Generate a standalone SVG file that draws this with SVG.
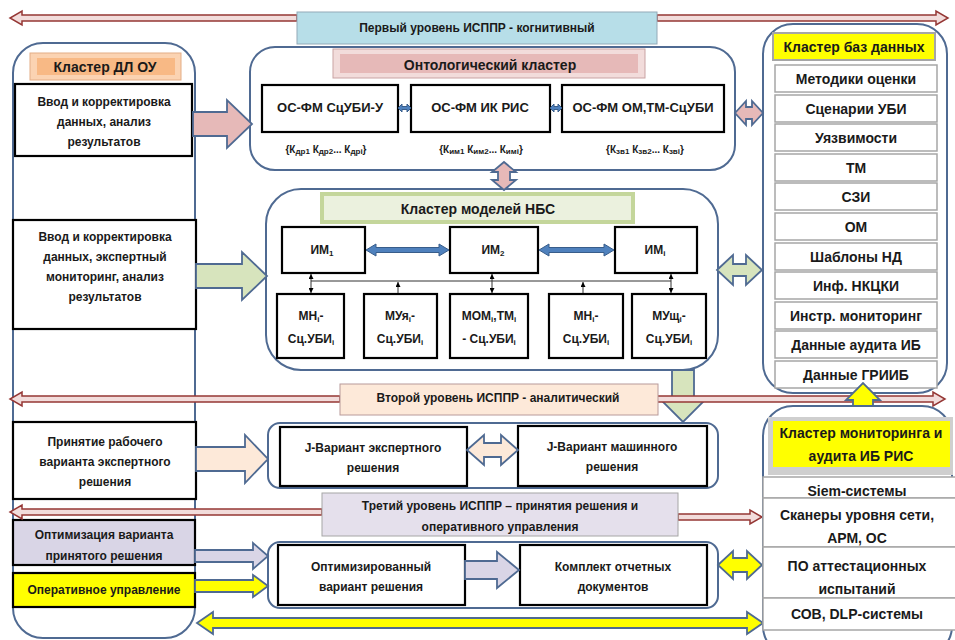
<svg xmlns="http://www.w3.org/2000/svg" width="955" height="640" viewBox="0 0 955 640">
  <style>
    text { font-family: "Liberation Sans", Arial, sans-serif; font-weight: bold; fill: #1a1a1a; text-anchor: middle; dominant-baseline: central; }
    .s12 { font-size: 12px; }
    .s13 { font-size: 13px; }
    .s14 { font-size: 14px; }
    .s10 { font-size: 10px; }
    .sub { font-size: 8px; }
    .cluster { fill: #ffffff; stroke: #4f6a92; stroke-width: 2; }
    .box { fill: #ffffff; stroke: #000000; stroke-width: 2.2; }
    .row { fill: #ffffff; stroke: #a6a6a6; stroke-width: 1.5; }
    .red { fill: #f2dcdb; stroke: #953735; stroke-width: 1.5; }
    .blk { stroke: #4f6a92; stroke-width: 1.8; stroke-linejoin: miter; }
    .pink { fill: #e6b9b8; }
    .green { fill: #d7e4bd; }
    .peach { fill: #fde9d9; }
    .lav { fill: #d9d5e6; }
    .yel { fill: #ffff00; }
    .blue { fill: #4f81bd; stroke: #385d8a; stroke-width: 1; }
    .thin { stroke: #333333; stroke-width: 1; fill: none; }
  </style>
  <defs>
    <marker id="ah" viewBox="0 0 6 6" refX="6" refY="3" markerWidth="5" markerHeight="5" orient="auto-start-reverse">
      <path d="M0,0 L6,3 L0,6 Z" fill="#000"/>
    </marker>
  </defs>

  <rect width="955" height="640" fill="#ffffff"/>

  <!-- Left cluster: decision makers -->
  <g id="cluster-dl">
    <rect class="cluster" x="13" y="43" width="182" height="595" rx="30"/>
    <rect x="30" y="53" width="151" height="27" fill="#fbd3b2" stroke="#e3ad86" stroke-width="1"/>
    <rect x="37" y="58" width="138" height="17" fill="#f8b985"/>
    <text class="s14" x="105" y="67">Кластер ДЛ ОУ</text>
  </g>
  <g id="dl-input">
    <rect class="box" x="15" y="84" width="177" height="72"/>
    <text class="s12" x="104" y="102">Ввод и корректировка</text>
    <text class="s12" x="104" y="122">данных, анализ</text>
    <text class="s12" x="104" y="142">результатов</text>
  </g>
  <g id="dl-monitoring">
    <rect class="box" x="13" y="220" width="183" height="109"/>
    <text class="s12" x="105" y="237">Ввод и корректировка</text>
    <text class="s12" x="105" y="257">данных, экспертный</text>
    <text class="s12" x="105" y="277">мониторинг, анализ</text>
    <text class="s12" x="105" y="297">результатов</text>
  </g>
  <g id="dl-accept">
    <rect class="box" x="13" y="422" width="183" height="77"/>
    <text class="s12" x="105" y="442">Принятие рабочего</text>
    <text class="s12" x="105" y="462">варианта экспертного</text>
    <text class="s12" x="105" y="482">решения</text>
  </g>
  <g id="dl-optimize">
    <rect class="box" x="13" y="520" width="182" height="45" fill="#d9d5e6" style="fill:#d9d5e6"/>
    <text class="s12" x="104" y="535">Оптимизация варианта</text>
    <text class="s12" x="104" y="556">принятого решения</text>
  </g>
  <g id="dl-control">
    <rect class="box" x="13" y="573" width="182" height="34" style="fill:#ffff00"/>
    <text class="s12" x="104" y="590">Оперативное управление</text>
  </g>

  <!-- Ontology cluster -->
  <g id="cluster-ontology">
    <rect class="cluster" x="250" y="47" width="485" height="123" rx="25"/>
    <rect x="333" y="49" width="312" height="29" fill="#f2dcdb" stroke="#c9a3a3" stroke-width="1"/>
    <rect x="340" y="54" width="298" height="19" fill="#e6b9b8"/>
    <text class="s14" x="490" y="65">Онтологический кластер</text>
  </g>
  <g id="os-fm-1">
    <rect class="box" x="262" y="85" width="136" height="47"/>
    <text class="s13" x="330" y="107">ОС-ФМ СцУБИ-У</text>
    <text class="s10" x="326" y="149">{К<tspan class="sub" dy="2">др1</tspan><tspan dy="-2"> К</tspan><tspan class="sub" dy="2">др2</tspan><tspan dy="-2">... К</tspan><tspan class="sub" dy="2">дрi</tspan><tspan dy="-2">}</tspan></text>
  </g>
  <g id="os-fm-2">
    <rect class="box" x="411" y="85" width="139" height="47"/>
    <text class="s13" x="480" y="107">ОС-ФМ ИК РИС</text>
    <text class="s10" x="481" y="149">{К<tspan class="sub" dy="2">им1</tspan><tspan dy="-2"> К</tspan><tspan class="sub" dy="2">им2</tspan><tspan dy="-2">... К</tspan><tspan class="sub" dy="2">имi</tspan><tspan dy="-2">}</tspan></text>
  </g>
  <g id="os-fm-3">
    <rect class="box" x="562" y="85" width="162" height="47"/>
    <text class="s13" x="643" y="107">ОС-ФМ ОМ,ТМ-СцУБИ</text>
    <text class="s10" x="645" y="149">{К<tspan class="sub" dy="2">зв1</tspan><tspan dy="-2"> К</tspan><tspan class="sub" dy="2">зв2</tspan><tspan dy="-2">... К</tspan><tspan class="sub" dy="2">звi</tspan><tspan dy="-2">}</tspan></text>
  </g>

  <!-- Cluster of NBS models -->
  <g id="cluster-nbs">
    <rect class="cluster" x="266" y="189" width="452" height="181" rx="35"/>
    <rect x="322" y="194" width="311" height="28" fill="#ebf1de" stroke="#c4d69b" stroke-width="4"/>
    <text class="s14" x="478" y="209">Кластер моделей НБС</text>
  </g>
  <g id="im-1">
    <rect class="box" x="282" y="227" width="83" height="46"/>
    <text class="s12" x="322" y="250">ИМ<tspan class="sub" dy="3">1</tspan></text>
  </g>
  <g id="im-2">
    <rect class="box" x="450" y="227" width="88" height="46"/>
    <text class="s12" x="493" y="250">ИМ<tspan class="sub" dy="3">2</tspan></text>
  </g>
  <g id="im-i">
    <rect class="box" x="615" y="227" width="82" height="46"/>
    <text class="s12" x="655" y="250">ИМ<tspan class="sub" dy="3">i</tspan></text>
  </g>
  <g id="m-1">
    <rect class="box" x="277" y="294" width="67" height="64"/>
    <text class="s12" x="311" y="316">МН<tspan class="sub" dy="3">i</tspan><tspan dy="-3">-</tspan></text>
    <text class="s12" x="311" y="339">Сц.УБИ<tspan class="sub" dy="3">i</tspan></text>
  </g>
  <g id="m-2">
    <rect class="box" x="364" y="294" width="73" height="64"/>
    <text class="s12" x="400" y="316">МУя<tspan class="sub" dy="3">i</tspan><tspan dy="-3">-</tspan></text>
    <text class="s12" x="400" y="339">Сц.УБИ<tspan class="sub" dy="3">i</tspan></text>
  </g>
  <g id="m-3">
    <rect class="box" x="450" y="294" width="78" height="64"/>
    <text class="s12" x="489" y="316">МОМ<tspan class="sub" dy="3">i</tspan><tspan dy="-3">,ТМ</tspan><tspan class="sub" dy="3">i</tspan></text>
    <text class="s12" x="489" y="339">- Сц.УБИ<tspan class="sub" dy="3">i</tspan></text>
  </g>
  <g id="m-4">
    <rect class="box" x="549" y="294" width="74" height="64"/>
    <text class="s12" x="586" y="316">МН<tspan class="sub" dy="3">i</tspan><tspan dy="-3">-</tspan></text>
    <text class="s12" x="586" y="339">Сц.УБИ<tspan class="sub" dy="3">i</tspan></text>
  </g>
  <g id="m-5">
    <rect class="box" x="632" y="294" width="74" height="64"/>
    <text class="s12" x="669" y="316">МУщ<tspan class="sub" dy="3">i</tspan><tspan dy="-3">-</tspan></text>
    <text class="s12" x="669" y="339">Сц.УБИ<tspan class="sub" dy="3">i</tspan></text>
  </g>

  <!-- Database cluster -->
  <g id="cluster-db">
    <rect class="cluster" x="763" y="24" width="184" height="369" rx="30"/>
    <rect x="773" y="33" width="162" height="27" fill="#ffff00" stroke="#a6a6a6" stroke-width="2"/>
    <text class="s14" x="854" y="47">Кластер баз данных</text>
    <rect class="row" x="775" y="65" width="162" height="27"/>
    <text class="s14" x="856" y="79">Методики оценки</text>
    <rect class="row" x="775" y="95" width="162" height="27"/>
    <text class="s14" x="856" y="109">Сценарии УБИ</text>
    <rect class="row" x="775" y="124" width="162" height="27"/>
    <text class="s14" x="856" y="138">Уязвимости</text>
    <rect class="row" x="775" y="154" width="162" height="27"/>
    <text class="s14" x="856" y="168">ТМ</text>
    <rect class="row" x="775" y="183" width="162" height="27"/>
    <text class="s14" x="856" y="197">СЗИ</text>
    <rect class="row" x="775" y="213" width="162" height="27"/>
    <text class="s14" x="856" y="227">ОМ</text>
    <rect class="row" x="775" y="243" width="162" height="27"/>
    <text class="s14" x="856" y="257">Шаблоны НД</text>
    <rect class="row" x="775" y="272" width="162" height="27"/>
    <text class="s14" x="856" y="286">Инф. НКЦКИ</text>
    <rect class="row" x="775" y="302" width="162" height="27"/>
    <text class="s14" x="856" y="316">Инстр. мониторинг</text>
    <rect class="row" x="775" y="331" width="162" height="27"/>
    <text class="s14" x="856" y="345">Данные аудита ИБ</text>
    <rect class="row" x="775" y="361" width="162" height="27"/>
    <text class="s14" x="856" y="375">Данные ГРИИБ</text>
  </g>

  <!-- Second level: working decisions -->
  <g id="cluster-decision">
    <rect class="cluster" x="268" y="423" width="450" height="65" rx="12"/>
  </g>
  <g id="j-expert">
    <rect class="box" x="280" y="427" width="187" height="59"/>
    <text class="s12" x="373" y="448">J-Вариант экспертного</text>
    <text class="s12" x="373" y="468">решения</text>
  </g>
  <g id="j-machine">
    <rect class="box" x="518" y="426" width="189" height="60"/>
    <text class="s12" x="612" y="447">J-Вариант машинного</text>
    <text class="s12" x="612" y="467">решения</text>
  </g>

  <!-- Third level: final decision -->
  <g id="cluster-final">
    <rect class="cluster" x="268" y="542" width="450" height="66" rx="12"/>
  </g>
  <g id="optimized">
    <rect class="box" x="278" y="545" width="187" height="60"/>
    <text class="s12" x="371" y="567">Оптимизированный</text>
    <text class="s12" x="371" y="587">вариант решения</text>
  </g>
  <g id="report">
    <rect class="box" x="520" y="545" width="187" height="60"/>
    <text class="s12" x="613" y="567">Комплект отчетных</text>
    <text class="s12" x="613" y="587">документов</text>
  </g>

  <!-- Connectors -->
  <g id="connectors">
    <!-- block arrows from the decision makers -->
    <path class="blk pink" d="M193,112 L227,112 L227,100 L252,124 L227,148 L227,136 L193,136 Z"/>
    <path class="blk green" d="M196,264 L242,264 L242,252 L267,276 L242,300 L242,288 L196,288 Z"/>
    <path class="blk peach" d="M196,447 L245,447 L245,435 L268,459 L245,483 L245,471 L196,471 Z"/>
    <path class="blk lav" d="M195,550 L253,550 L253,543 L268,556 L253,569 L253,562 L195,562 Z"/>
    <path class="blk yel" d="M195,580 L253,580 L253,575 L268,586 L253,597 L253,592 L195,592 Z"/>
    <!-- ontology links -->
    <path class="blue" d="M398,108 L402,104 L402,106.5 L407,106.5 L407,104 L411,108 L407,112 L407,109.5 L402,109.5 L402,112 Z"/>
    <path class="blue" d="M550,108 L554,104 L554,106.5 L558,106.5 L558,104 L562,108 L558,112 L558,109.5 L554,109.5 L554,112 Z"/>
    <path class="blk pink" d="M735,113 L746,101 L746,107 L752,107 L752,101 L763,113 L752,125 L752,119 L746,119 L746,125 Z"/>
    <path class="blk pink" d="M504,162 L516,172 L510,172 L510,180 L516,180 L504,190 L492,180 L498,180 L498,172 L492,172 Z"/>
    <!-- model links -->
    <path class="blue" d="M366,250 L376,244 L376,247.5 L439,247.5 L439,244 L449,250 L439,256 L439,252.5 L376,252.5 L376,256 Z"/>
    <path class="blue" d="M539,250 L549,244 L549,247.5 L604,247.5 L604,244 L614,250 L604,256 L604,252.5 L549,252.5 L549,256 Z"/>
    <line class="thin" x1="311" y1="281" x2="671" y2="281"/>
    <line class="thin" x1="311" y1="274" x2="311" y2="293" marker-start="url(#ah)" marker-end="url(#ah)"/>
    <line class="thin" x1="492" y1="274" x2="492" y2="293" marker-start="url(#ah)" marker-end="url(#ah)"/>
    <line class="thin" x1="671" y1="274" x2="671" y2="293" marker-start="url(#ah)" marker-end="url(#ah)"/>
    <line class="thin" x1="398" y1="293" x2="398" y2="282" marker-end="url(#ah)"/>
    <line class="thin" x1="583" y1="293" x2="583" y2="282" marker-end="url(#ah)"/>
    <path class="blk green" d="M717,270 L733,255 L733,264 L746,264 L746,255 L762,270 L746,285 L746,276 L733,276 L733,285 Z"/>
    <path class="blk green" d="M672,370 L694,370 L694,398 L707,398 L683,422 L659,398 L672,398 Z"/>
    <!-- decision links -->
    <path class="blk peach" d="M467,450 L484,435 L484,443 L501,443 L501,435 L518,450 L501,465 L501,457 L484,457 L484,465 Z"/>
    <path class="blk lav" d="M465,561 L497,561 L497,552 L519,570 L497,588 L497,579 L465,579 Z"/>
    <path class="blk yel" d="M718,565 L733,551 L733,558 L747,558 L747,551 L762,565 L747,579 L747,572 L733,572 L733,579 Z"/>
    <path class="blk yel" d="M197,623 L213,612 L213,618 L747,618 L747,612 L763,623 L747,634 L747,628 L213,628 L213,634 Z"/>
    <!-- level lines -->
    <path class="red" d="M297,15 L22,15 L22,11 L10,18 L22,25 L22,21 L297,21 Z"/>
    <path class="red" d="M657,15 L936,15 L936,11 L948,18 L936,25 L936,21 L657,21 Z"/>
    <path class="red" d="M340,396 L22,396 L22,392 L10,399 L22,406 L22,402 L340,402 Z"/>
    <path class="red" d="M657,396 L933,396 L933,392 L945,399 L933,406 L933,402 L657,402 Z"/>
    <path class="red" d="M322,509 L22,509 L22,505 L10,512 L22,519 L22,515 L322,515 Z"/>
    <path class="red" d="M678,514 L750,514 L750,510 L762,517 L750,524 L750,520 L678,520 Z"/>
    <path class="blk yel" d="M853,420 L853,400 L846,400 L863,383 L880,400 L873,400 L873,420 Z"/>
  </g>

  <!-- Monitoring and audit cluster -->
  <g id="cluster-monitoring">
    <rect class="cluster" x="763" y="406" width="189" height="250" rx="30"/>
    <rect x="768" y="417" width="185" height="58" fill="#cfcfcf"/>
    <rect x="773" y="421" width="177" height="46" fill="#ffff00"/>
    <text class="s14" x="861" y="433">Кластер мониторинга и</text>
    <text class="s14" x="861" y="456">аудита ИБ РИС</text>
    <rect class="row" x="763" y="477" width="195" height="21"/>
    <text class="s14" x="857" y="491">Siem-системы</text>
    <rect class="row" x="763" y="498" width="195" height="49"/>
    <text class="s14" x="857" y="515">Сканеры уровня сети,</text>
    <text class="s14" x="857" y="538">АРМ, ОС</text>
    <rect class="row" x="763" y="547" width="195" height="51"/>
    <text class="s14" x="857" y="566">ПО аттестационных</text>
    <text class="s14" x="857" y="589">испытаний</text>
    <rect class="row" x="763" y="598" width="195" height="32"/>
    <text class="s14" x="857" y="614">СОВ, DLP-системы</text>
  </g>

  <!-- Level banners -->
  <g id="level-1">
    <rect x="297" y="12" width="360" height="32" fill="#b7dee8" stroke="#93aab8" stroke-width="1"/>
    <text class="s12" x="477" y="28">Первый уровень ИСППР - когнитивный</text>
  </g>
  <g id="level-2">
    <rect x="340" y="384" width="318" height="31" fill="#fde9d9" stroke="#b89a9a" stroke-width="1"/>
    <text class="s12" x="498" y="398">Второй уровень ИСППР - аналитический</text>
  </g>
  <g id="level-3">
    <rect x="322" y="493" width="356" height="43" fill="#e5e0ec" stroke="#a6a6a6" stroke-width="1"/>
    <text class="s12" x="500" y="506">Третий уровень ИСППР – принятия решения  и</text>
    <text class="s12" x="500" y="527">оперативного управления</text>
  </g>
</svg>
